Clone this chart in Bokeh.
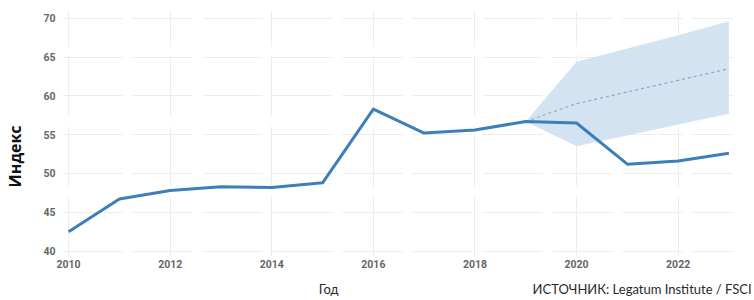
from bokeh.plotting import figure
from bokeh.models import Range1d, FixedTicker, LinearAxis
from bokeh.embed import file_html
from bokeh.resources import INLINE

years = [2010, 2011, 2012, 2013, 2014, 2015, 2016, 2017, 2018, 2019, 2020, 2021, 2022, 2023]
index_values = [42.5, 46.7, 47.8, 48.3, 48.2, 48.8, 58.3, 55.2, 55.6, 56.7, 56.5, 51.2, 51.6, 52.6]

forecast_years = [2019, 2020, 2021, 2022, 2023]
forecast_mid = [56.7, 59.0, 60.5, 62.0, 63.5]
forecast_upper = [56.7, 64.4, 66.1, 67.8, 69.6]
forecast_lower = [56.7, 53.5, 54.9, 56.3, 57.7]

x_ticks = [2010, 2012, 2014, 2016, 2018, 2020, 2022]
y_ticks = [40, 45, 50, 55, 60, 65, 70]

y_title = "Индекс"
x_title = "Год"
source_text = "ИСТОЧНИК: Legatum Institute / FSCI"

# anchor positions (in axis units) for the title texts
Y_TITLE_AT = 52.2
X_TITLE_AT = 2015.12
SOURCE_AT = 2021.29

p = figure(width=754, height=300, output_backend="svg", toolbar_location=None,
           x_range=Range1d(2009.88, 2023.09), y_range=Range1d(39.3, 71.0),
           min_border_left=62, min_border_right=21, min_border_top=10, min_border_bottom=44)
p.outline_line_color = None
p.background_fill_color = "white"

p.varea(x=forecast_years, y1=forecast_lower, y2=forecast_upper,
        fill_color="#cfe0f1", fill_alpha=0.9)
p.line(forecast_years, forecast_mid, line_color="#8ea6c4", line_width=1.2, line_dash="3 3")
p.line(years, index_values, line_color="#3d7fb6", line_width=3, line_join="round")

def plain(ax):
    ax.axis_line_color = None
    ax.major_tick_line_color = None
    ax.minor_tick_line_color = None
    ax.major_tick_in = 0
    ax.major_tick_out = 0
    ax.minor_tick_in = 0
    ax.minor_tick_out = 0

for ax in (p.xaxis[0], p.yaxis[0]):
    plain(ax)
    ax.major_label_text_font = "Roboto"
    ax.major_label_text_font_style = "bold"
    ax.major_label_text_font_size = "10.5px"
    ax.major_label_text_color = "#666666"
p.xaxis[0].ticker = FixedTicker(ticks=x_ticks)
p.yaxis[0].ticker = FixedTicker(ticks=y_ticks)
p.xaxis[0].major_label_standoff = 3
p.yaxis[0].major_label_standoff = 7

# y title
ytitle_axis = LinearAxis(ticker=FixedTicker(ticks=[Y_TITLE_AT]),
                         major_label_overrides={Y_TITLE_AT: y_title},
                         major_label_orientation="vertical")
plain(ytitle_axis)
ytitle_axis.major_label_text_font = "Open Sans"
ytitle_axis.major_label_text_font_style = "bold"
ytitle_axis.major_label_text_font_size = "16px"
ytitle_axis.major_label_text_color = "#111111"
ytitle_axis.major_label_standoff = 14
p.add_layout(ytitle_axis, "left")

# x title + source line
xtitle_axis = LinearAxis(ticker=FixedTicker(ticks=[X_TITLE_AT, SOURCE_AT]),
                         major_label_overrides={X_TITLE_AT: x_title, SOURCE_AT: source_text})
plain(xtitle_axis)
xtitle_axis.major_label_text_font = "Lato"
xtitle_axis.major_label_text_font_size = "13px"
xtitle_axis.major_label_text_color = "#2a2a2a"
xtitle_axis.major_label_standoff = 10
p.add_layout(xtitle_axis, "below")

p.grid.grid_line_color = "#ededed"
p.grid.grid_line_dash = "60 10"
p.grid.grid_line_width = 1

open("out.html", "w").write(file_html(p, INLINE))
